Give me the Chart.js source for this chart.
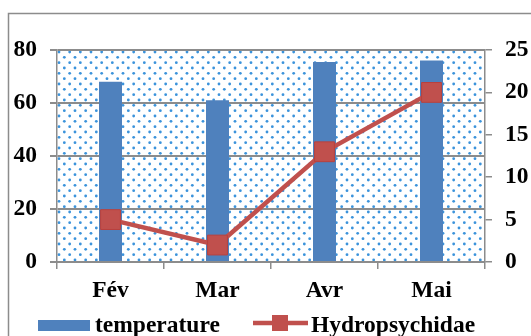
<!DOCTYPE html>
<html><head><meta charset="utf-8">
<script src="https://cdn.jsdelivr.net/npm/chart.js@4.4.0/dist/chart.umd.min.js"></script>
<style>html,body{margin:0;padding:0;background:#fff;}#wrap{width:531px;height:336px;position:relative;}</style>
</head><body><div id="wrap"><canvas id="c" width="531" height="336"></canvas></div>
<script>
const categories = ["Fév", "Mar", "Avr", "Mai"];
const temperature = [68, 61, 75.5, 76];
const hydropsychidae = [5, 2, 13, 20];
const leftTicks = [0, 20, 40, 60, 80];
const rightTicks = [0, 5, 10, 15, 20, 25];

const FONT = "'Liberation Serif', 'Times New Roman', serif";

function makePattern(){
  const t = document.createElement('canvas');
  t.width = 32; t.height = 32;
  const g = t.getContext('2d');
  g.fillStyle = '#ffffff'; g.fillRect(0,0,32,32);
  g.fillStyle = '#3b93db';
  const s = 32/3;
  for (let i=0;i<3;i++) for (let j=0;j<3;j++){
    for (const [ox,oy] of [[2,2],[2+s/2,2+s/2]]){
      g.beginPath(); g.arc(i*s+ox, j*s+oy, 1.4, 0, Math.PI*2); g.fill();
    }
  }
  return g.createPattern(t,'repeat');
}

const bgPlugin = {
  id:'bg',
  beforeDraw(chart){
    const {ctx, chartArea:a} = chart;
    ctx.save();
    ctx.fillStyle = '#fff'; ctx.fillRect(0,0,chart.width,chart.height);
    const p = makePattern();
    ctx.translate(a.left, a.top);
    ctx.fillStyle = p;
    ctx.fillRect(0,0,a.right-a.left,a.bottom-a.top);
    ctx.restore();
    ctx.save();
    ctx.strokeStyle = '#8c8c8c'; ctx.lineWidth = 1.5;
    ctx.beginPath(); ctx.moveTo(8.5, 340); ctx.lineTo(8.5, 13.5); ctx.lineTo(540, 13.5); ctx.stroke();
    ctx.restore();
  },
  afterDraw(chart){
    const ctx = chart.ctx;
    const ds = chart.data.datasets;
    ctx.save();
    ctx.font = "bold 23.5px " + FONT;
    ctx.textBaseline = 'middle';
    ctx.fillStyle = ds[0].backgroundColor;
    ctx.fillRect(38, 320, 52, 11);
    ctx.fillStyle = '#000';
    ctx.fillText(ds[0].label, 95, 326);
    ctx.strokeStyle = ds[1].borderColor; ctx.lineWidth = 4.5;
    ctx.beginPath(); ctx.moveTo(253, 323); ctx.lineTo(308, 323); ctx.stroke();
    ctx.fillStyle = ds[1].pointBackgroundColor;
    ctx.fillRect(272, 315, 16, 16);
    ctx.fillStyle = '#000';
    ctx.fillText(ds[1].label, 311, 326);
    ctx.restore();
  }
};

new Chart(document.getElementById('c'), {
  data: {
    labels: categories,
    datasets: [
      { type:'bar', label:'temperature', data: temperature, backgroundColor:'#4f81bd',
        yAxisID:'y', order:2, categoryPercentage:1, barPercentage:0.215 },
      { type:'line', label:'Hydropsychidae', data: hydropsychidae, yAxisID:'y1', order:1,
        borderColor:'#c0504d', borderWidth:4.5, pointStyle:'rect', pointRadius:14,
        pointBackgroundColor:'#c0504d', pointBorderColor:'#b9403d', pointBorderWidth:1, tension:0 }
    ]
  },
  options: {
    responsive:false, animation:false,
    layout:{ padding:{ top:50, left:0, right:0, bottom:0 } },
    plugins:{ legend:{display:false}, tooltip:{enabled:false} },
    scales:{
      x:{
        offset:true,
        grid:{ display:true, drawOnChartArea:false, drawTicks:true, tickLength:7, color:'#8c8c8c', lineWidth:1.5, offset:true },
        border:{ display:true, color:'#8c8c8c', width:2 },
        ticks:{ font:{ family:FONT, size:23.5, weight:'bold' }, color:'#000', padding:8 },
        afterFit(s){ s.height = 74; }
      },
      y:{
        position:'left', min:0, max:80,
        afterBuildTicks(s){ s.ticks = leftTicks.map(v=>({value:v})); },
        grid:{ color:'#8c8c8c', lineWidth:2, tickLength:7 },
        border:{ display:true, color:'#8c8c8c', width:1.5 },
        ticks:{ font:{ family:FONT, size:23.5, weight:'bold' }, color:'#000', padding:13 },
        afterFit(s){ s.width = 57; }
      },
      y1:{
        position:'right', min:0, max:25,
        afterBuildTicks(s){ s.ticks = rightTicks.map(v=>({value:v})); },
        grid:{ drawOnChartArea:false, color:'#8c8c8c', lineWidth:1.5, tickLength:7 },
        border:{ display:true, color:'#8c8c8c', width:1.5 },
        ticks:{ font:{ family:FONT, size:23.5, weight:'bold' }, color:'#000', padding:13 },
        afterFit(s){ s.width = 46; }
      }
    }
  },
  plugins:[bgPlugin]
});
</script></body></html>
